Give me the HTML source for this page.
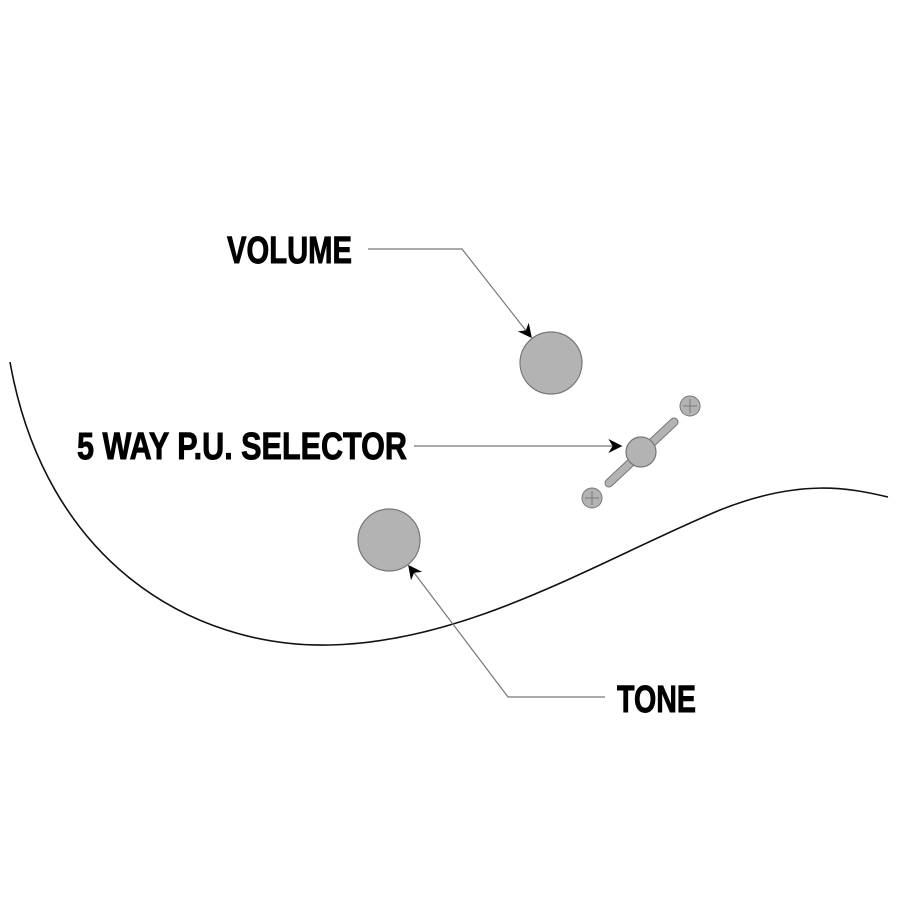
<!DOCTYPE html>
<html><head><meta charset="utf-8"><style>
html,body{margin:0;padding:0;background:#fff;}
svg{display:block;}
text{font-family:"Liberation Sans Narrow","Liberation Sans",sans-serif;font-weight:bold;font-size:38px;fill:#000;stroke:#000;stroke-width:0.9px;}
</style></head><body>
<svg width="900" height="900" viewBox="0 0 900 900" xmlns="http://www.w3.org/2000/svg">
<defs>
<marker id="ar" viewBox="0 0 10 10" refX="9" refY="5" markerWidth="14" markerHeight="14" markerUnits="userSpaceOnUse" orient="auto">
<path d="M0,0 L10,5 L0,10 L3,5 z" fill="#000"/>
</marker>
</defs>
<path d="M10,362 C45,560 190,648 330,645 C470,642 600,560 720,510 C800,478 850,488 888,497" fill="none" stroke="#111" stroke-width="1.6"/>
<circle cx="551" cy="363" r="31" fill="#b3b3b3" stroke="#777" stroke-width="1.2"/>
<circle cx="389" cy="540" r="31" fill="#b3b3b3" stroke="#777" stroke-width="1.2"/>
<line x1="609" y1="483" x2="674" y2="422" stroke="#777" stroke-width="9" stroke-linecap="round"/>
<line x1="609" y1="483" x2="674" y2="422" stroke="#b3b3b3" stroke-width="7" stroke-linecap="round"/>
<circle cx="641" cy="452" r="15" fill="#b3b3b3" stroke="#777" stroke-width="1.2"/>
<g stroke="#777" stroke-width="1">
<circle cx="690" cy="406" r="10" fill="#b3b3b3"/>
<line x1="683" y1="406" x2="697" y2="406"/><line x1="690" y1="399" x2="690" y2="413"/>
<circle cx="592" cy="498" r="10" fill="#b3b3b3"/>
<line x1="585" y1="498" x2="599" y2="498"/><line x1="592" y1="491" x2="592" y2="505"/>
</g>
<g fill="none" stroke="#777" stroke-width="1.2">
<polyline points="368,249 462,249 531,337" marker-end="url(#ar)"/>
<polyline points="414,446 621,446" marker-end="url(#ar)"/>
<polyline points="605,697 508,697 409,566" marker-end="url(#ar)"/>
</g>
<text x="227" y="263" textLength="125" lengthAdjust="spacingAndGlyphs">VOLUME</text>
<text x="77" y="459" textLength="330" lengthAdjust="spacingAndGlyphs">5 WAY P.U. SELECTOR</text>
<text x="617" y="712" textLength="79" lengthAdjust="spacingAndGlyphs">TONE</text>
</svg>
</body></html>
